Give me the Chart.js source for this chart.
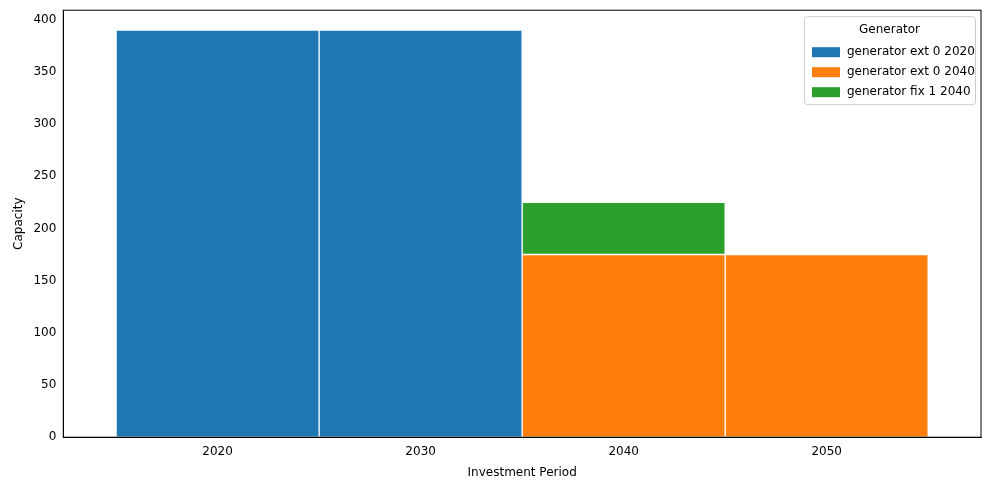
<!DOCTYPE html>
<html>
<head>
<meta charset="UTF-8">
<title>Capacity by Investment Period</title>
<script src="https://cdn.jsdelivr.net/npm/chart.js"></script>
<style>
  body { margin: 0; background: #fff; }
  #wrap { width: 989px; height: 490px; }
</style>
</head>
<body>
<div id="wrap"><canvas id="chart"></canvas></div>
<script>
const periods = [2020, 2030, 2040, 2050];
const ext2020 = [390, 390, 0, 0];
const ext2040 = [0, 0, 175, 175];
const fix2040 = [0, 0, 50, 0];
const seriesNames = ['generator ext 0 2020', 'generator ext 0 2040', 'generator fix 1 2040'];
const seriesColors = ['#1f77b4', '#ff7f0e', '#2ca02c'];

const font = { family: 'DejaVu Sans', size: 12 };

// legend box inside the plot, like matplotlib's
const innerLegend = {
  id: 'innerLegend',
  afterDraw(chart) {
    const { ctx, chartArea } = chart;
    const w = 171, h = 88;
    const x = chartArea.right - w - 6, y = chartArea.top + 6;
    ctx.save();
    ctx.fillStyle = 'rgba(255,255,255,0.8)';
    ctx.strokeStyle = '#ccc';
    ctx.lineWidth = 1;
    ctx.beginPath();
    ctx.roundRect(x + 0.5, y + 0.5, w, h, 3);
    ctx.fill(); ctx.stroke();
    ctx.fillStyle = '#000';
    ctx.font = '12px "DejaVu Sans"';
    ctx.textAlign = 'center';
    ctx.textBaseline = 'middle';
    ctx.fillText('Generator', x + w / 2, y + 14);
    ctx.textAlign = 'left';
    seriesNames.forEach((name, i) => {
      const ry = y + 36 + i * 20;
      ctx.fillStyle = seriesColors[i];
      ctx.fillRect(x + 8, ry - 5, 28, 10);
      ctx.fillStyle = '#000';
      ctx.fillText(name, x + 43, ry);
    });
    ctx.restore();
  }
};

const mk = (label, data, color) => ({
  label, data: periods.map((p, i) => ({ x: p, y: data[i] })),
  backgroundColor: color, borderColor: '#fff', borderWidth: 1,
  barPercentage: 1, categoryPercentage: 1, borderSkipped: false
});

new Chart(document.getElementById('chart'), {
  type: 'bar',
  data: {
    datasets: [
      mk(seriesNames[0], ext2020, seriesColors[0]),
      mk(seriesNames[1], ext2040, seriesColors[1]),
      mk(seriesNames[2], fix2040, seriesColors[2])
    ]
  },
  options: {
    responsive: true,
    maintainAspectRatio: false,
    animation: false,
    layout: { padding: { left: 8, right: 8, top: 10, bottom: 6 } },
    plugins: { legend: { display: false }, tooltip: { enabled: false } },
    scales: {
      x: {
        type: 'linear', stacked: true, min: 2012.4, max: 2057.6, offset: false,
        afterBuildTicks: ax => { ax.ticks = periods.map(v => ({ value: v })); },
        ticks: { color: '#000', font, callback: v => String(v) },
        grid: { display: false, drawTicks: true, tickLength: 4, color: '#000' },
        border: { color: '#000' },
        title: { display: true, text: 'Investment Period', color: '#000', font }
      },
      y: {
        stacked: true, min: 0, max: 409,
        afterBuildTicks: ax => { ax.ticks = [0,50,100,150,200,250,300,350,400].map(v => ({ value: v })); },
        ticks: { color: '#000', font },
        grid: { display: false, drawTicks: true, tickLength: 4, color: '#000' },
        border: { color: '#000' },
        title: { display: true, text: 'Capacity', color: '#000', font }
      }
    }
  },
  plugins: [innerLegend, {
    id: 'frame',
    afterDraw(chart) {
      const { ctx, chartArea: a } = chart;
      ctx.save(); ctx.strokeStyle = '#000'; ctx.lineWidth = 1;
      ctx.strokeRect(a.left, a.top, a.right - a.left, a.bottom - a.top);
      ctx.restore();
    }
  }]
});
</script>
</body>
</html>
